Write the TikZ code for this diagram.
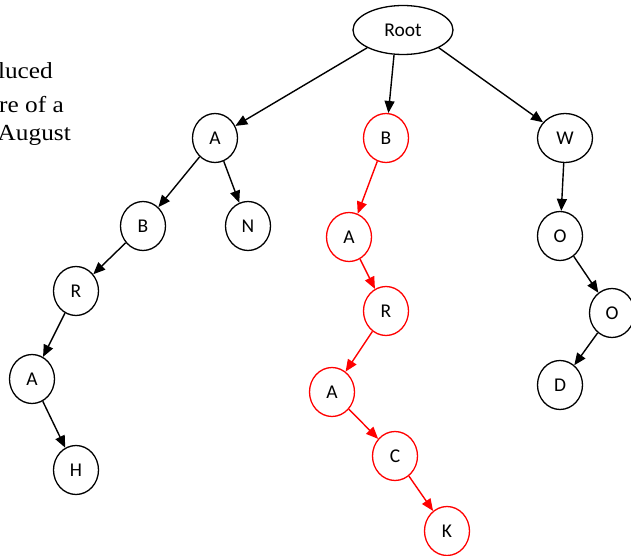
\documentclass[tikz,border=0pt]{standalone}
\usepackage{fontspec}
\setmainfont{Carlito}
\newfontfamily\captionface{Liberation Serif}
\usetikzlibrary{shapes.geometric,arrows.meta}
\begin{document}
\begin{tikzpicture}[x=1pt,y=-1pt,
  letter/.style={ellipse,draw,line width=1.3pt,minimum width=45pt,minimum height=49pt,
    inner sep=0pt,font=\fontsize{19.5}{22}\selectfont},
  hot/.style={draw=red},
  link/.style={line width=1.4pt,-{Triangle[length=12pt,width=10pt]}},
  hotlink/.style={link,color=red},
  caption/.style={font=\captionface\fontsize{23}{25}\selectfont,anchor=base east,inner sep=0pt}
]
\useasboundingbox (0,0) rectangle (631,556);
\clip (0,0) rectangle (631,556);

% cropped caption on the left
\node[caption] (c1) at (53,79) {\scalebox{1.1}[1]{luced}};
\node[caption] (c2) at (64,113) {\scalebox{1.1}[1]{re of a}};
\node[caption] (c3) at (71,141) {\scalebox{1.1}[1]{August}};

% root
\node[letter,minimum width=100pt] (root) at (403,30) {Root};

% left branch
\node[letter] (a1) at (215,138) {A};
\node[letter] (n1) at (248,226) {N};
\node[letter] (b1) at (143,226) {B};
\node[letter] (r1) at (76,291) {R};
\node[letter] (a2) at (32,379) {A};
\node[letter] (h1) at (76,470) {H};

% middle branch (highlighted)
\node[letter,hot] (b2) at (386,138) {B};
\node[letter,hot] (a3) at (349,237) {A};
\node[letter,hot] (r2) at (386,311) {R};
\node[letter,hot] (a4) at (332,392) {A};
\node[letter,hot] (c4) at (395,456) {C};
\node[letter,hot] (k1) at (447,531) {K};

% right branch
\node[letter,minimum width=55pt] (w1) at (565,138) {W};
\node[letter] (o1) at (560,236) {O};
\node[letter] (o2) at (612,313) {O};
\node[letter] (d1) at (560,385) {D};

% connectors
\draw[link] (root.south west) -- (a1);
\draw[link] ([xshift=-9pt]root.south) -- (b2);
\draw[link] (root.south east) -- (w1);

\draw[link] (a1) -- (b1);
\draw[link] (a1) -- (n1);
\draw[link] (b1) -- (r1);
\draw[link] (r1) -- (a2);
\draw[link] (a2) -- (h1);

\draw[hotlink] (b2) -- (a3);
\draw[hotlink] (a3) -- (r2);
\draw[hotlink] (r2) -- (a4);
\draw[hotlink] (a4) -- (c4);
\draw[hotlink] (c4) -- (k1);

\draw[link] (w1) -- (o1);
\draw[link] (o1) -- (o2);
\draw[link] (o2) -- (d1);
\end{tikzpicture}
\end{document}
